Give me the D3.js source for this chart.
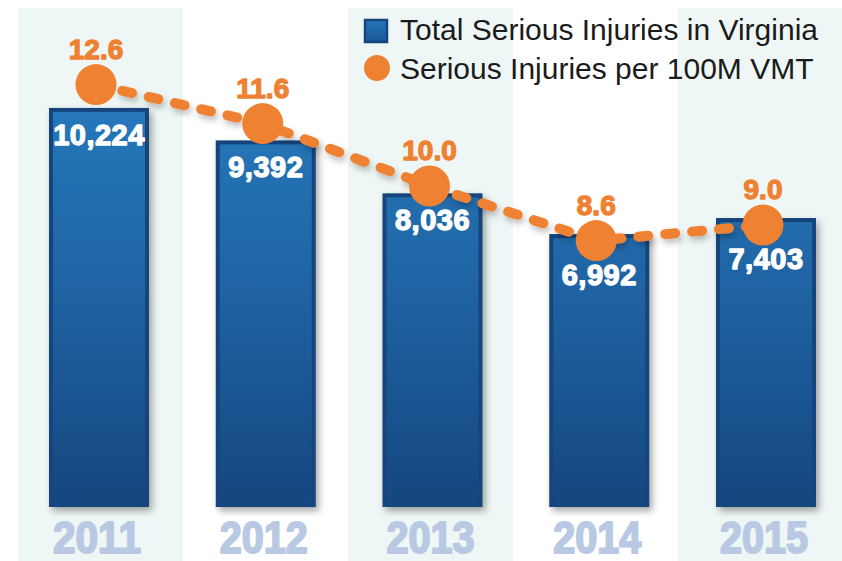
<!DOCTYPE html>
<html>
<head>
<meta charset="utf-8">
<script src="https://cdn.jsdelivr.net/npm/d3@7"></script>
<style>
  html, body { margin: 0; padding: 0; background: #ffffff; }
  svg { display: block; }
</style>
</head>
<body>
<svg id="chart" width="842" height="561"></svg>
<script>
// Serious injuries in Virginia, 2011–2015
const years = ["2011", "2012", "2013", "2014", "2015"];
const totalInjuries = [10224, 9392, 8036, 6992, 7403];
const injuriesPer100M = [12.6, 11.6, 10.0, 8.6, 9.0];
const legendLabels = ["Total Serious Injuries in Virginia", "Serious Injuries per 100M VMT"];

const W = 842, H = 561;
const orange = "#ef8133";
const svg = d3.select("#chart");
const defs = svg.append("defs");

// bar fill gradient, shared across bars so colours line up by height
const grad = defs.append("linearGradient")
  .attr("id", "barGrad")
  .attr("gradientUnits", "userSpaceOnUse")
  .attr("x1", 0).attr("y1", 100).attr("x2", 0).attr("y2", 507);
grad.append("stop").attr("offset", "0%").attr("stop-color", "#2579bb");
grad.append("stop").attr("offset", "45%").attr("stop-color", "#1f64a4");
grad.append("stop").attr("offset", "100%").attr("stop-color", "#15467f");

const legGrad = defs.append("linearGradient")
  .attr("id", "legGrad").attr("x1", 0).attr("y1", 0).attr("x2", 0).attr("y2", 1);
legGrad.append("stop").attr("offset", "0%").attr("stop-color", "#2677b9");
legGrad.append("stop").attr("offset", "100%").attr("stop-color", "#1a5595");

const shadow = defs.append("filter").attr("id", "shadow")
  .attr("x", "-20%").attr("y", "-20%").attr("width", "150%").attr("height", "150%");
shadow.append("feDropShadow")
  .attr("dx", 3).attr("dy", 4).attr("stdDeviation", 3.5)
  .attr("flood-color", "#000").attr("flood-opacity", 0.35);

const lineShadow = defs.append("filter").attr("id", "lineShadow")
  .attr("x", "-10%").attr("y", "-50%").attr("width", "130%").attr("height", "250%");
lineShadow.append("feDropShadow")
  .attr("dx", 2).attr("dy", 4).attr("stdDeviation", 3)
  .attr("flood-color", "#000").attr("flood-opacity", 0.25);

// scales
const xBand = d3.scaleBand().domain(years).range([18, 843]).paddingInner(0);
const xBar = d3.scalePoint().domain(years).range([99, 766]);
const yBar = d3.scaleLinear().domain([0, 12000]).range([507, 38.6]);
const yRate = d3.scaleLinear().domain([0, 14]).range([576, 30]);
const barW = 100;
const dotR = 20.5;
const dotShift = -3;
const sans = "'Liberation Sans', Arial, sans-serif";

// alternating background bands
svg.append("g").selectAll("rect")
  .data(years.filter((d, i) => i % 2 === 0))
  .join("rect")
  .attr("x", d => xBand(d))
  .attr("y", 8)
  .attr("width", xBand.bandwidth())
  .attr("height", H - 8)
  .attr("fill", "#eef7f5");

// bars
const barData = years.map((y, i) => ({ year: y, total: totalInjuries[i], rate: injuriesPer100M[i] }));
const bars = svg.append("g").selectAll("g").data(barData).join("g");
bars.append("rect")
  .attr("x", d => xBar(d.year) - barW / 2)
  .attr("y", d => yBar(d.total))
  .attr("width", barW)
  .attr("height", d => yBar(0) - yBar(d.total))
  .attr("fill", "#16457d")
  .attr("filter", "url(#shadow)");
bars.append("rect")
  .attr("x", d => xBar(d.year) - barW / 2 + 4)
  .attr("y", d => yBar(d.total) + 4)
  .attr("width", barW - 8)
  .attr("height", d => yBar(0) - yBar(d.total) - 5)
  .attr("fill", "url(#barGrad)");
// value label sits near the bar top, pushed below the rate dot when they would collide
bars.append("text")
  .attr("x", d => xBar(d.year))
  .attr("y", d => Math.max(yBar(d.total) + 37, yRate(d.rate) + dotR + 23.5))
  .attr("text-anchor", "middle")
  .attr("font-family", sans)
  .attr("font-weight", "bold")
  .attr("font-size", 29)
  .attr("letter-spacing", 0.5)
  .attr("fill", "#ffffff")
  .attr("stroke", "#ffffff")
  .attr("stroke-width", 1.3)
  .attr("stroke-linejoin", "round")
  .text(d => d3.format(",")(d.total));

// year labels
svg.append("g").selectAll("text").data(years).join("text")
  .attr("x", d => xBar(d) - 2)
  .attr("y", 553)
  .attr("text-anchor", "middle")
  .attr("font-family", sans)
  .attr("font-weight", "bold")
  .attr("font-size", 44)
  .attr("textLength", 88)
  .attr("lengthAdjust", "spacingAndGlyphs")
  .attr("fill", "#b9c9e4")
  .attr("stroke", "#b9c9e4")
  .attr("stroke-width", 2)
  .attr("stroke-linejoin", "round")
  .text(d => d);

// rate line
const line = d3.line()
  .x(d => xBar(d.year) + dotShift)
  .y(d => yRate(d.rate));
svg.append("path")
  .datum(barData)
  .attr("d", line)
  .attr("fill", "none")
  .attr("stroke", orange)
  .attr("stroke-width", 10)
  .attr("stroke-linecap", "round")
  .attr("stroke-dasharray", "10 17")
  .attr("filter", "url(#lineShadow)");

svg.append("g").selectAll("circle").data(barData).join("circle")
  .attr("cx", d => xBar(d.year) + dotShift)
  .attr("cy", d => yRate(d.rate))
  .attr("r", dotR)
  .attr("fill", orange);

svg.append("g").selectAll("text").data(barData).join("text")
  .attr("x", d => xBar(d.year) + dotShift)
  .attr("y", d => yRate(d.rate) - 26)
  .attr("text-anchor", "middle")
  .attr("font-family", sans)
  .attr("font-weight", "bold")
  .attr("font-size", 28)
  .attr("fill", orange)
  .attr("stroke", orange)
  .attr("stroke-width", 1.3)
  .attr("stroke-linejoin", "round")
  .text(d => d3.format(".1f")(d.rate));

// legend
const leg = svg.append("g");
leg.append("rect")
  .attr("x", 365).attr("y", 20).attr("width", 22).attr("height", 22)
  .attr("fill", "url(#legGrad)").attr("stroke", "#16457d").attr("stroke-width", 2.5);
leg.append("circle")
  .attr("cx", 377).attr("cy", 68).attr("r", 13).attr("fill", orange);
leg.selectAll("text").data(legendLabels).join("text")
  .attr("x", 400)
  .attr("y", (d, i) => 40 + i * 39)
  .attr("font-family", sans)
  .attr("font-size", 30)
  .attr("fill", "#1b1b1b")
  .text(d => d);
</script>
</body>
</html>
